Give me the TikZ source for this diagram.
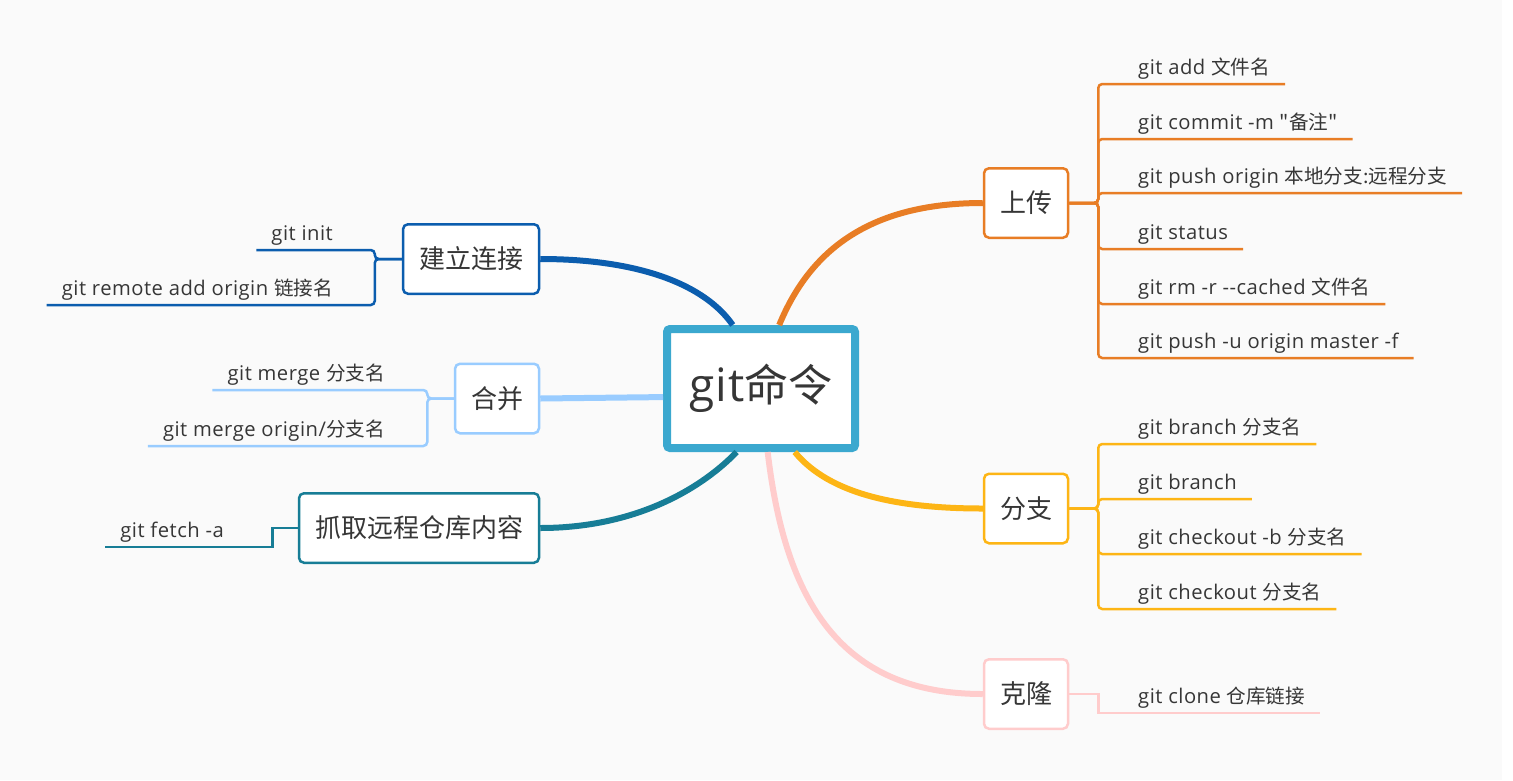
\documentclass[tikz,border=0pt]{standalone}
\usepackage{fontspec}
\usepackage{tikz}
\usetikzlibrary{calc}
\newfontfamily\enfont{Open Sans}[LetterSpace=2.5]
\newfontfamily\zhfont{Noto Sans CJK SC}
\newcommand{\zh}[1]{{\zhfont\fontsize{19.6}{24}\selectfont #1}}
\definecolor{bg}{HTML}{FAFAFA}
\definecolor{ink}{HTML}{363636}
\definecolor{rootc}{HTML}{3BA8CF}
\definecolor{upc}{HTML}{E87D25}
\definecolor{brc}{HTML}{FDB515}
\definecolor{clonec}{HTML}{FFCCCC}
\definecolor{connc}{HTML}{0B5DAE}
\definecolor{mergec}{HTML}{99CCFF}
\definecolor{fetchc}{HTML}{177D96}
\tikzset{
  rootbox/.style={draw=rootc, fill=white, line width=8pt, rounded corners=3pt,
    minimum width=188pt, minimum height=119pt, text=ink,
    font=\enfont\fontsize{46}{50}\selectfont},
  topic/.style={draw=#1, fill=white, line width=2.5pt, rounded corners=5pt,
    minimum height=69.5pt, inner xsep=16pt, text=ink,
    font=\zhfont\fontsize{26}{30}\selectfont},
  leaf/.style={inner sep=0pt, text=ink, font=\enfont\fontsize{20.2}{24}\selectfont},
  trunk/.style={draw=#1, line width=6pt},
  twig/.style={draw=#1, line width=2.5pt, rounded corners=4pt},
}

\begin{document}
\begin{tikzpicture}[x=1pt, y=-1pt]
  \fill[white] (0,0) rectangle (1513,780);
  \fill[bg] (0,0) rectangle (1502,780);
  \useasboundingbox (0,0) rectangle (1513,780);

  % centre and topics
  \node[rootbox] (root) at (761,388.5) {git{\zhfont\fontsize{44}{50}\selectfont 命令}};
  \node[topic=upc] (up) at (1026,203) {上传};
  \node[topic=brc] (br) at (1026,508.5) {分支};
  \node[topic=clonec] (clone) at (1026,694) {克隆};
  \node[topic=connc] (conn) at (471,259) {建立连接};
  \node[topic=mergec] (merge) at (497,398.5) {合并};
  \node[topic=fetchc] (fetch) at (419,528) {抓取远程仓库内容};

  % main branches
  \draw[trunk=upc] (root.74) .. controls (810,250) and (870,203) .. (up.west);
  \draw[trunk=brc] (root.298) .. controls (830,495) and (900,508.5) .. (br.west);
  \draw[trunk=clonec] (root.276) .. controls (785,600) and (840,694) .. (clone.west);
  \draw[trunk=connc] (conn.east) .. controls (640,259) and (705,285) .. (root.114);
  \draw[trunk=mergec] (merge.east) -- (root.185);
  \draw[trunk=fetchc] (fetch.east) .. controls (640,528) and (705,485) .. (root.249);

  % leaves, right
  \node[leaf, anchor=base west] (u1) at (1138,74) {git add \zh{文件名}};
  \node[leaf, anchor=base west] (u2) at (1138,129) {git commit -m \zh{"备注"}};
  \node[leaf, anchor=base west] (u3) at (1138,183) {git push origin \zh{本地分支:远程分支}};
  \node[leaf, anchor=base west] (u4) at (1138,239) {git status};
  \node[leaf, anchor=base west] (u5) at (1138,294) {git rm -r --cached \zh{文件名}};
  \node[leaf, anchor=base west] (u6) at (1138,348) {git push -u origin master -f};
  \node[leaf, anchor=base west] (b1) at (1138,434) {git branch \zh{分支名}};
  \node[leaf, anchor=base west] (b2) at (1138,489) {git branch};
  \node[leaf, anchor=base west] (b3) at (1138,544) {git checkout -b \zh{分支名}};
  \node[leaf, anchor=base west] (b4) at (1138,599) {git checkout \zh{分支名}};
  \node[leaf, anchor=base west] (k1) at (1138,703) {git clone \zh{仓库链接}};

  % leaves, left
  \node[leaf, anchor=base east] (c1) at (333,240) {git init};
  \node[leaf, anchor=base east] (c2) at (333,295) {git remote add origin \zh{链接名}};
  \node[leaf, anchor=base east] (m1) at (385,380) {git merge \zh{分支名}};
  \node[leaf, anchor=base east] (m2) at (385,436) {git merge origin/\zh{分支名}};
  \node[leaf, anchor=base east] (f1) at (224,537) {git fetch -a};

  % underlines
  \foreach \l in {u1,u2,u3,u4,u5,u6}
    \draw[twig=upc] (up.east) -- ++(29,0) |- ($(\l.base east)+(15,10)$);
  \foreach \l in {b1,b2,b3,b4}
    \draw[twig=brc] (br.east) -- ++(29,0) |- ($(\l.base east)+(15,10)$);
  \draw[twig=clonec, sharp corners] (clone.east) -- ++(29,0) |- ($(k1.base east)+(15,10)$);
  \foreach \l in {c1,c2}
    \draw[twig=connc] (conn.west) -- ++(-27,0) |- ($(\l.base west)+(-15,10)$);
  \foreach \l in {m1,m2}
    \draw[twig=mergec] (merge.west) -- ++(-26.5,0) |- ($(\l.base west)+(-15,10)$);
  \draw[twig=fetchc, sharp corners] (fetch.west) -- ++(-25.5,0) |- ($(f1.base west)+(-15,10)$);
\end{tikzpicture}
\end{document}
